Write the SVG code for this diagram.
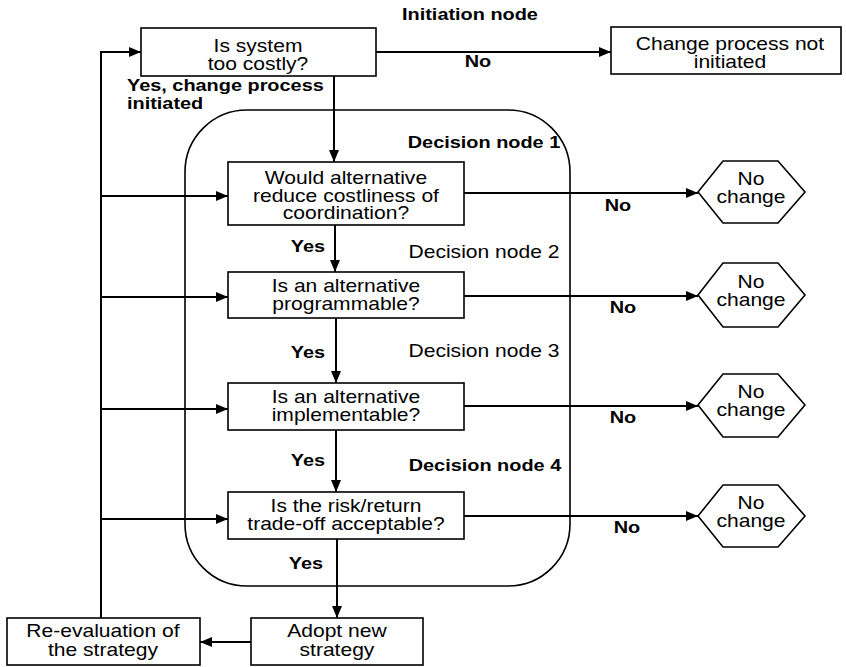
<svg xmlns="http://www.w3.org/2000/svg" width="846" height="667" viewBox="0 0 846 667">
<style>
  text { font-family: "Liberation Sans", Arial, sans-serif; fill: #000; transform-box: fill-box; transform: scaleX(1.17); }
  .t { font-size: 18px; text-anchor: middle; transform-origin: center; }
  .b { font-size: 17px; font-weight: bold; text-anchor: middle; transform-origin: center; }
  .bl { font-size: 17px; font-weight: bold; text-anchor: start; transform-origin: left center; }
  .box { fill: #fff; stroke: #000; stroke-width: 1.6; }
  .cont { fill: none; stroke: #000; stroke-width: 1.6; }
  .ln { fill: none; stroke: #000; stroke-width: 2; }
  .arr { fill: none; stroke: #000; stroke-width: 2; marker-end: url(#ah); }
</style>
<defs>
  <marker id="ah" viewBox="0 0 12 10" refX="12" refY="5" markerWidth="12" markerHeight="10" markerUnits="userSpaceOnUse" orient="auto">
    <path d="M0,0 L12,5 L0,10 Z" fill="#000"/>
  </marker>
</defs>
<rect width="846" height="667" fill="#fff"/>

<g id="container">
  <rect class="cont" x="185" y="110" width="385" height="476" rx="62" ry="62"/>
</g>

<g id="connectors">
  <path class="arr" d="M376,52 H611"/>
  <path class="arr" d="M334,76 V162"/>
  <path class="arr" d="M335,225 V272"/>
  <path class="arr" d="M336,318 V383"/>
  <path class="arr" d="M336,430 V492"/>
  <path class="arr" d="M337,539 V618"/>
  <path class="arr" d="M464,193 H698"/>
  <path class="arr" d="M464,296 H698"/>
  <path class="arr" d="M464,406 H698"/>
  <path class="arr" d="M464,516 H698"/>
  <path class="arr" d="M251,642 H200"/>
  <path class="ln" d="M101,618 V52"/>
  <path class="arr" d="M100,52 H141"/>
  <path class="arr" d="M101,196 H228"/>
  <path class="arr" d="M101,297 H228"/>
  <path class="arr" d="M101,409 H228"/>
  <path class="arr" d="M101,519 H228"/>
</g>

<g id="labels">
  <text class="b" x="470" y="20">Initiation node</text>
  <text class="bl" x="127" y="91">Yes, change process</text>
  <text class="bl" x="127" y="109">initiated</text>
  <text class="b" x="478" y="67">No</text>
  <text class="b" x="484" y="148">Decision node 1</text>
  <text class="t" x="484" y="258">Decision node 2</text>
  <text class="t" x="484" y="357">Decision node 3</text>
  <text class="b" x="485" y="471">Decision node 4</text>
  <text class="b" x="308" y="252">Yes</text>
  <text class="b" x="308" y="358">Yes</text>
  <text class="b" x="308" y="466">Yes</text>
  <text class="b" x="306" y="569">Yes</text>
  <text class="b" x="618" y="211">No</text>
  <text class="b" x="623" y="313">No</text>
  <text class="b" x="623" y="423">No</text>
  <text class="b" x="627" y="533">No</text>
</g>

<g id="n0">
  <rect class="box" x="141" y="28" width="235" height="48"/>
  <text class="t" x="258" y="52">Is system</text>
  <text class="t" x="258" y="70">too costly?</text>
</g>
<g id="nNot">
  <rect class="box" x="611" y="27" width="230" height="47"/>
  <text class="t" x="730" y="50">Change process not</text>
  <text class="t" x="730" y="68">initiated</text>
</g>
<g id="n1">
  <rect class="box" x="228" y="162" width="236" height="63"/>
  <text class="t" x="346" y="184">Would alternative</text>
  <text class="t" x="346" y="202">reduce costliness of</text>
  <text class="t" x="346" y="219">coordination?</text>
</g>
<g id="n2">
  <rect class="box" x="228" y="272" width="236" height="46"/>
  <text class="t" x="346" y="292">Is an alternative</text>
  <text class="t" x="346" y="310">programmable?</text>
</g>
<g id="n3">
  <rect class="box" x="228" y="383" width="236" height="47"/>
  <text class="t" x="346" y="403">Is an alternative</text>
  <text class="t" x="346" y="421">implementable?</text>
</g>
<g id="n4">
  <rect class="box" x="228" y="492" width="236" height="47"/>
  <text class="t" x="346" y="512">Is the risk/return</text>
  <text class="t" x="346" y="530">trade-off acceptable?</text>
</g>
<g id="h1">
  <polygon class="box" points="698,192 723,161 778,161 805,192 778,223 723,223"/>
  <text class="t" x="751" y="185">No</text>
  <text class="t" x="751" y="203">change</text>
</g>
<g id="h2">
  <polygon class="box" points="698,295 723,263 778,263 805,295 778,327 723,327"/>
  <text class="t" x="751" y="288">No</text>
  <text class="t" x="751" y="306">change</text>
</g>
<g id="h3">
  <polygon class="box" points="698,405 723,374 778,374 805,405 778,437 723,437"/>
  <text class="t" x="751" y="398">No</text>
  <text class="t" x="751" y="416">change</text>
</g>
<g id="h4">
  <polygon class="box" points="698,516 723,485 778,485 805,516 778,547 723,547"/>
  <text class="t" x="751" y="509">No</text>
  <text class="t" x="751" y="527">change</text>
</g>
<g id="nAdopt">
  <rect class="box" x="251" y="618" width="172" height="47"/>
  <text class="t" x="337" y="637">Adopt new</text>
  <text class="t" x="337" y="656">strategy</text>
</g>
<g id="nReeval">
  <rect class="box" x="7" y="618" width="193" height="47"/>
  <text class="t" x="103" y="637">Re-evaluation of</text>
  <text class="t" x="103" y="656">the strategy</text>
</g>
</svg>
